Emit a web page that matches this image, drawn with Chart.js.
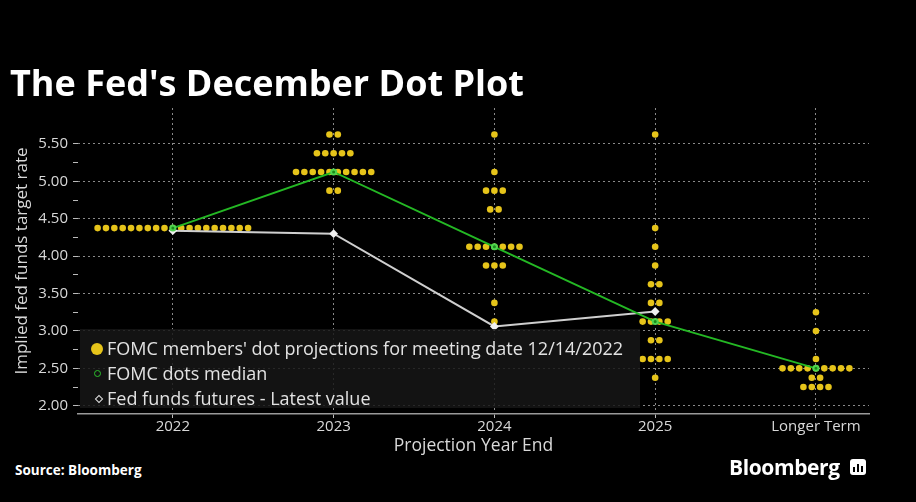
<!DOCTYPE html>
<html>
<head>
<meta charset="utf-8">
<script src="https://cdn.jsdelivr.net/npm/chart.js@4.4.1/dist/chart.umd.min.js"></script>
<style>
  html, body { margin: 0; padding: 0; background: #000; }
  #wrap { position: relative; width: 916px; height: 502px; background: #000; overflow: hidden; font-family: "Open Sans", sans-serif; }
  #chartBox { position: absolute; left: 0; top: 0; width: 916px; height: 460px; }
  #title { position: absolute; left: 10px; top: 63px; color: #fff; font-weight: 700; font-size: 36px; line-height: 40px; white-space: nowrap; }
  #legend { position: absolute; left: 80px; top: 329px; width: 560px; height: 79px; background: rgba(22,22,22,0.85); }
  .lg { position: absolute; left: 27px; color: #e2e2e2; font-size: 18px; line-height: 20px; white-space: nowrap; }
  .mk { position: absolute; }
  #source { position: absolute; left: 15px; top: 461px; color: #fff; font-weight: 700; font-size: 13.5px; }
  #brand { position: absolute; left: 729px; top: 453px; color: #fff; font-weight: 700; font-size: 21px; letter-spacing: -0.4px; }
  #logo { position: absolute; left: 850px; top: 459px; width: 16px; height: 16px; background: #fff; border-radius: 3px; }
  #logo span { position: absolute; bottom: 3px; width: 2px; background: #000; }
</style>
</head>
<body>
<div id="wrap">
  <div id="chartBox"><canvas id="dotChart"></canvas></div>
  <div id="title">The Fed's December Dot Plot</div>
  <div id="legend">
    <div class="mk" style="left:11px;top:14px;width:12px;height:12px;border-radius:50%;background:#e6c41a;"></div>
    <div class="mk" style="left:14px;top:41px;width:5px;height:5px;border-radius:50%;border:1.5px solid #2cc12c;"></div>
    <div class="mk" style="left:16px;top:67px;width:4px;height:4px;transform:rotate(45deg);border:1px solid #e0e0e0;"></div>
    <div class="lg" style="top:9px;">FOMC members' dot projections for meeting date 12/14/2022</div>
    <div class="lg" style="top:34px;">FOMC dots median</div>
    <div class="lg" style="top:59px;">Fed funds futures - Latest value</div>
  </div>
  <div id="source">Source: Bloomberg</div>
  <div id="brand">Bloomberg</div>
  <div id="logo"><span style="left:3px;height:5px"></span><span style="left:7px;height:8px"></span><span style="left:11px;height:6px"></span></div>
</div>
<script>
const categories = ['2022', '2023', '2024', '2025', 'Longer Term'];
const yTickValues = [2.00, 2.25, 2.50, 2.75, 3.00, 3.25, 3.50, 3.75, 4.00, 4.25, 4.50, 4.75, 5.00, 5.25, 5.50];

const medianValues = [4.375, 5.125, 4.125, 3.125, 2.5];
const futuresValues = [4.34, 4.30, 3.06, 3.26];

// dot rows per projection year: rate level and how many members put a dot there
const dotRates2022 = [4.375];
const dotCounts2022 = [19];
const dotRates2023 = [5.625, 5.375, 5.125, 4.875];
const dotCounts2023 = [2, 5, 10, 2];
const dotRates2024 = [5.625, 5.125, 4.875, 4.625, 4.125, 3.875, 3.375, 3.125];
const dotCounts2024 = [1, 1, 3, 2, 7, 3, 1, 1];
const dotRates2025 = [5.625, 4.375, 4.125, 3.875, 3.625, 3.375, 3.125, 2.875, 2.625, 2.375];
const dotCounts2025 = [1, 1, 1, 1, 2, 2, 4, 2, 4, 1];
const dotRatesLT = [3.25, 3.0, 2.625, 2.5, 2.375, 2.25];
const dotCountsLT = [1, 1, 1, 9, 2, 4];

const dotRates = [dotRates2022, dotRates2023, dotRates2024, dotRates2025, dotRatesLT];
const dotCounts = [dotCounts2022, dotCounts2023, dotCounts2024, dotCounts2025, dotCountsLT];

const DOT_STEP = 0.052; // horizontal gap between dots on one row, in category units

const dotPoints = [];
dotRates.forEach(function(rates, ci) {
    rates.forEach(function(rate, ri) {
        const n = dotCounts[ci][ri];
        for (let i = 0; i < n; i++) {
            dotPoints.push({ x: ci + (i - (n - 1) / 2) * DOT_STEP, y: rate });
        }
    });
});

function isMajor(v) {
    return Math.abs(v * 2 - Math.round(v * 2)) < 1e-6;
}

const ctx = document.getElementById('dotChart').getContext('2d');
const dotChart = new Chart(ctx, {
    type: 'scatter',
    data: {
        datasets: [
            {
                label: 'FOMC dots median',
                data: medianValues.map((v, i) => ({ x: i, y: v })),
                showLine: true,
                borderColor: '#24b824',
                borderWidth: 2,
                pointRadius: 2.5,
                pointBorderColor: '#4fd44f',
                pointBackgroundColor: '#1a8a1a',
                order: 1
            },
            {
                label: 'Fed funds futures - Latest value',
                data: futuresValues.map((v, i) => ({ x: i, y: v })),
                showLine: true,
                borderColor: '#cfcfcf',
                borderWidth: 2,
                pointStyle: 'rectRot',
                pointRadius: 3,
                pointBackgroundColor: '#f0f0f0',
                pointBorderColor: '#f0f0f0',
                order: 2
            },
            {
                label: "FOMC members' dot projections",
                data: dotPoints,
                pointRadius: 3.3,
                pointBackgroundColor: '#e6c41a',
                pointBorderWidth: 0,
                order: 3
            }
        ]
    },
    options: {
        responsive: true,
        maintainAspectRatio: false,
        animation: false,
        layout: { padding: { top: 108, right: 47, left: 0, bottom: 0 } },
        plugins: {
            legend: { display: false },
            tooltip: { enabled: false }
        },
        scales: {
            x: {
                type: 'linear',
                min: -0.59,
                max: 4.33,
                afterBuildTicks: function(scale) {
                    scale.ticks = categories.map((c, i) => ({ value: i }));
                },
                afterFit: function(scale) { scale.height = 46; },
                ticks: {
                    color: '#d8d8d8',
                    font: { family: 'Open Sans', size: 15 },
                    padding: 0,
                    autoSkip: false,
                    maxRotation: 0,
                    callback: function(v) { return categories[Math.round(v)]; }
                },
                grid: {
                    color: '#8a8a8a',
                    lineWidth: 1,
                    tickLength: 4,
                    tickColor: '#bbbbbb'
                },
                border: { display: true, color: '#9a9a9a', width: 1.5, dash: [2, 3] },
                title: {
                    display: true,
                    text: 'Projection Year End',
                    color: '#d8d8d8',
                    font: { family: 'Open Sans', size: 17.5 },
                    padding: { top: 0, bottom: 3 }
                }
            },
            y: {
                min: 1.89,
                max: 5.98,
                afterBuildTicks: function(scale) {
                    scale.ticks = yTickValues.map(v => ({ value: v }));
                },
                afterFit: function(scale) { scale.width = 78; },
                ticks: {
                    color: '#d8d8d8',
                    font: { family: 'Open Sans', size: 15 },
                    padding: 5,
                    callback: function(v) { return isMajor(v) ? v.toFixed(2) : ''; }
                },
                grid: {
                    color: function(c) {
                        return c.tick && isMajor(c.tick.value) ? '#8a8a8a' : 'rgba(0,0,0,0)';
                    },
                    tickColor: '#bbbbbb',
                    tickLength: 5,
                    lineWidth: 1
                },
                border: { display: false, dash: [2, 3] },
                title: {
                    display: true,
                    text: 'Implied fed funds target rate',
                    color: '#d8d8d8',
                    font: { family: 'Open Sans', size: 17 },
                    padding: { top: 12, bottom: 0 }
                }
            }
        }
    }
});
</script>
</body>
</html>
